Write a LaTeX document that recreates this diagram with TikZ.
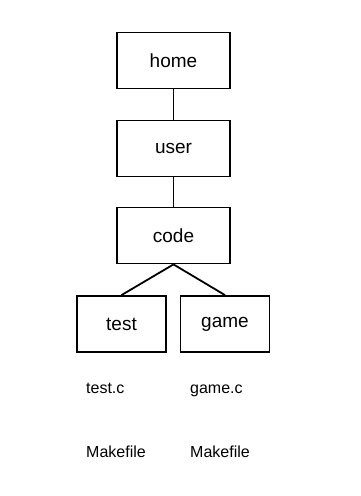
\documentclass[tikz,border=0pt]{standalone}
\usepackage{fontspec}
\setmainfont{Liberation Sans}
\begin{document}
\begin{tikzpicture}[
    x=1pt,y=-1pt,
    dirbox/.style={draw=black,line width=1.8pt,minimum width=113pt,minimum height=56pt,inner sep=0pt,font=\fontsize{19}{22}\selectfont},
    leafbox/.style={dirbox,minimum width=89pt},
    link/.style={draw=black,line width=1.8pt},
    filename/.style={anchor=base west,inner sep=0pt,font=\fontsize{16}{18}\selectfont}
]
\useasboundingbox (0,0) rectangle (360,496);

% Directory chain.
\node[dirbox] (home) at (173.5,60.5) {home};
\node[dirbox] (user) at (173.5,148.5) {user};
\node[dirbox] (code) at (173.5,235.5) {code};

% Subdirectories of code.
\node[leafbox] (test) at (121.5,324) {test};
\node[leafbox] (game) at (225,324) {game};

% Connectors.
\draw[link] (home) -- (user);
\draw[link] (user) -- (code);
\draw[link] (code.south) -- (test.north);
\draw[link] (code.south) -- (game.north);

% Files below each subdirectory.
\node[filename] (testc) at (86,393) {test.c};
\node[filename] (gamec) at (190,393) {game.c};
\node[filename] (testmake) at (86,457) {Makefile};
\node[filename] (gamemake) at (190,457) {Makefile};
\end{tikzpicture}
\end{document}
